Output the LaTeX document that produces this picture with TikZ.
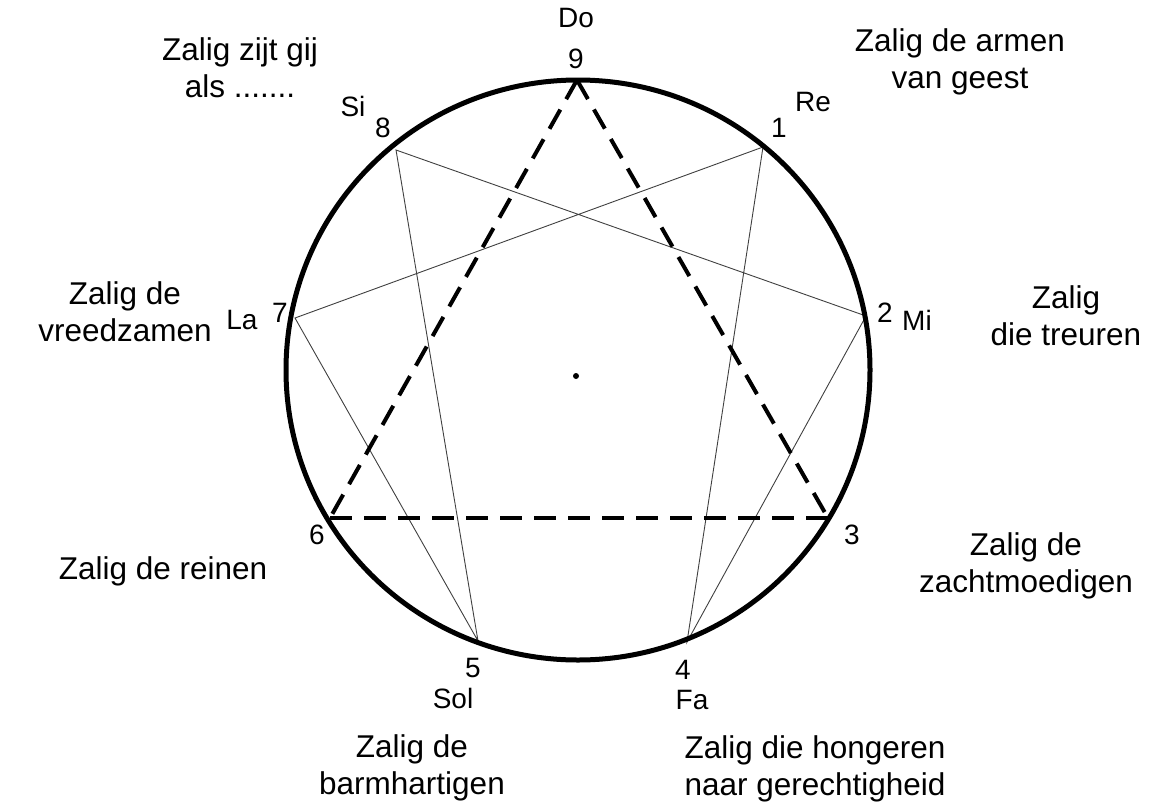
\documentclass[tikz,border=0pt]{standalone}
\usepackage{fontspec}
\setmainfont{Liberation Sans}
\begin{document}
\begin{tikzpicture}[x=1pt,y=-1pt,
  big/.style={font=\fontsize{31.5}{37}\selectfont, align=center, inner sep=0pt},
  lab/.style={font=\fontsize{28}{30}\selectfont, inner sep=0pt},
  thinline/.style={line width=0.9pt, draw=black!75},
  dashline/.style={line width=4pt, dash pattern=on 22pt off 12pt}]
\useasboundingbox (0,0) rectangle (1151,809);
% points
\coordinate (c) at (578,370);
\coordinate (p9) at (577,80);
\coordinate (p1) at (763,147);
\coordinate (p2) at (866,316);
\coordinate (p3) at (828,518);
\coordinate (p4) at (687,642);
\coordinate (p5) at (478,641);
\coordinate (p6) at (330,518);
\coordinate (p7) at (295,318);
\coordinate (p8) at (396,150);
\coordinate (dot) at (576,376);
% hexad
\draw[thinline] (p1) -- (p4) -- (p2) -- (p8) -- (p5) -- (p7) -- cycle;
% triangle
\draw[dashline] (p6) -- (p3);
\draw[dashline] (p9) -- (p3);
\draw[dashline] (p9) -- (p6);
% circle
\draw[line width=5pt] (c) ellipse [x radius=292, y radius=290];
\fill (dot) circle (3);
% numbers and notes
\node[lab] (n9) at (576,59) {9};
\node[lab] (do) at (576,18) {Do};
\node[lab] (n1) at (779,128) {1};
\node[lab] (re) at (813,102) {Re};
\node[lab] (n8) at (383,128) {8};
\node[lab] (si) at (353,106) {Si};
\node[lab] (n2) at (885,313) {2};
\node[lab] (mi) at (917,320) {Mi};
\node[lab] (n7) at (280,313) {7};
\node[lab] (la) at (242,320) {La};
\node[lab] (n6) at (317,535) {6};
\node[lab] (n3) at (852,535) {3};
\node[lab] (n5) at (473,668) {5};
\node[lab] (sol) at (453,698) {Sol};
\node[lab] (n4) at (683,670) {4};
\node[lab] (fa) at (692,700) {Fa};
% texts
\node[big] (t0) at (240,68) {Zalig zijt gij\\als .......};
\node[big] (t1) at (960,62) {Zalig de armen\\van geest};
\node[big] (t7) at (125,312) {Zalig de\\vreedzamen};
\node[big] (t2) at (1066,316) {Zalig\\die treuren};
\node[big] (t6) at (163,571) {Zalig de reinen};
\node[big] (t3) at (1026,566) {Zalig de\\zachtmoedigen};
\node[big] (t5) at (412,768) {Zalig de\\barmhartigen};
\node[big] (t4) at (815,769) {Zalig die hongeren\\naar gerechtigheid};
\end{tikzpicture}
\end{document}
